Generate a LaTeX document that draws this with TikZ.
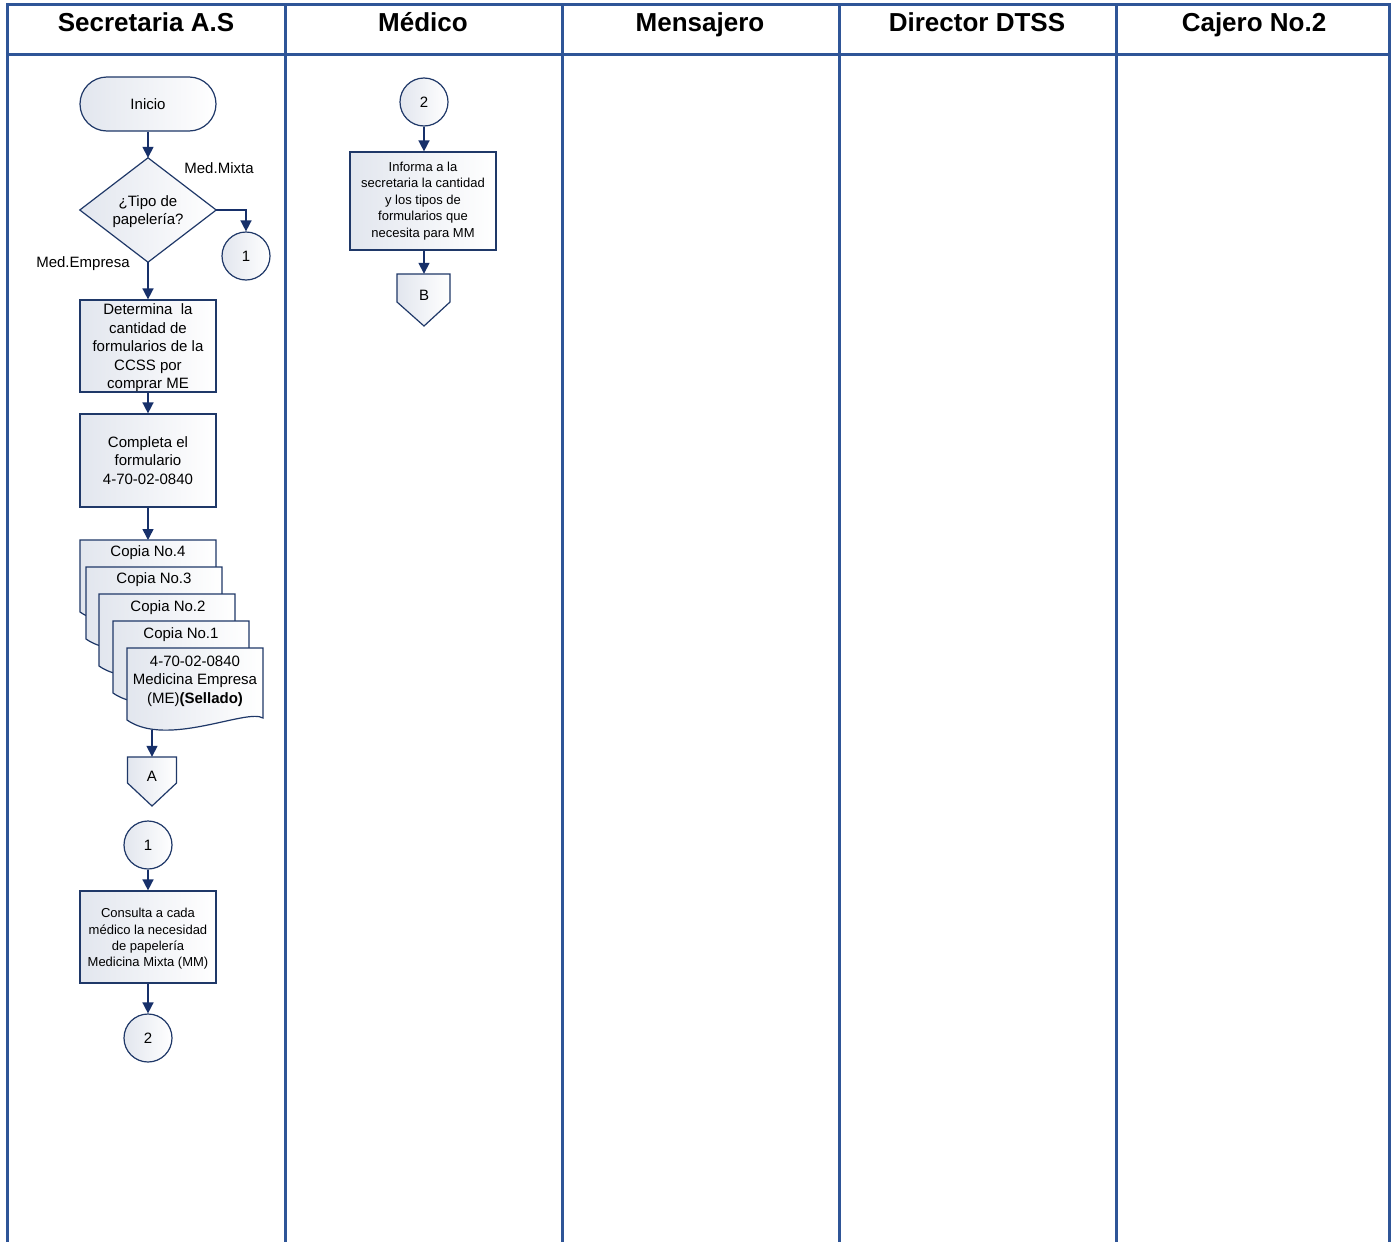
\documentclass[tikz,border=0pt]{standalone}
\usepackage{fontspec}
\setmainfont{Liberation Sans}
\usetikzlibrary{arrows.meta,shapes.geometric}
\definecolor{lanec}{HTML}{2F5597}
\definecolor{edgec}{HTML}{1F3868}
\definecolor{arrc}{HTML}{17306A}
\definecolor{fillL}{HTML}{E2E6EE}
\tikzset{
  lane/.style={draw=lanec, line width=3pt},
  shapefill/.style={left color=fillL, right color=white},
  shapeline/.style={draw=edgec, line width=1.2pt},
  proc/.style={shapeline, shapefill, rectangle, minimum width=136pt, inner sep=1pt, align=center, font=\fontsize{15}{18.5}\selectfont},
  smallproc/.style={proc, font=\fontsize{13}{16.4}\selectfont},
  term/.style={proc, rounded corners=27pt, minimum height=54pt},
  conn/.style={shapeline, shapefill, circle, minimum size=48pt, inner sep=0pt, font=\fontsize{15}{18}\selectfont},
  flow/.style={draw=arrc, line width=1.5pt, -{Triangle[width=11pt,length=11pt]}},
  lbl/.style={font=\fontsize{15}{18}\selectfont, inner sep=0pt},
  inlbl/.style={inner sep=0pt, align=center, yshift=-2pt},
  head/.style={font=\fontsize{26}{30}\selectfont\bfseries, inner sep=0pt, anchor=base},
  pics/docpage/.style={code={
    \path[shapeline, shapefill] (0,0) -- (136,0) -- (136,70)
      .. controls (120,60) and (40,100) .. (0,72) -- cycle;
  }}
}
\begin{document}
\begin{tikzpicture}[x=1pt, y=-1pt]
\useasboundingbox (0,0) rectangle (1396,1242);
\fill[white] (0,0) rectangle (1396,1242);

% swimlane frame
\draw[lane] (6,4.5) -- (1389,4.5);
\draw[lane] (6,54) -- (1389,54);
\foreach \xx in {7.5,285,562,839,1116,1389}
  \draw[lane] (\xx,3) -- (\xx,1242);

% lane headers
\node[head] (h1) at (146,31.5) {Secretaria A.S};
\node[head] (h2) at (423,31.5) {Médico};
\node[head] (h3) at (700,31.5) {Mensajero};
\node[head] (h4) at (977,31.5) {Director DTSS};
\node[head] (h5) at (1254,31.5) {Cajero No.2};

% --- Secretaria A.S ---
\node[term] (start) at (148,104) {Inicio};

\node[minimum width=136pt, minimum height=104pt, inner sep=0pt] (dec) at (148,210) {};
\path[shapeline, shapefill] (dec.north) -- (dec.east) -- (dec.south) -- (dec.west) -- cycle;
\node[align=center, font=\fontsize{15}{18}\selectfont] (dectext) at (148,212) {¿Tipo de\\papelería?};
\node[lbl] (lmixta) at (219,168) {Med.Mixta};
\node[lbl] (lempresa) at (83,264) {Med.Empresa};

\node[conn] (c1a) at (246,256) {1};

\node[proc, minimum height=92pt,
  label={[inlbl, font=\fontsize{15}{18.5}\selectfont]center:Determina\ \ la\\cantidad de\\formularios de la\\CCSS por\\comprar ME}]
  (det) at (148,346) {};
\node[proc, minimum height=93pt] (comp) at (148,460.5) {Completa el\\formulario\\4-70-02-0840};

% stack of form copies
\pic at (80,540) {docpage};
\pic at (86,567) {docpage};
\pic at (99,594) {docpage};
\pic at (113,621) {docpage};
\pic at (127,648) {docpage};
\coordinate (stacktop) at (148,540);
\coordinate (stackbot) at (152,730);
\node[lbl] (cp4) at (148,552.5) {Copia No.4};
\node[lbl] (cp3) at (154,579.5) {Copia No.3};
\node[lbl] (cp2) at (168,607.5) {Copia No.2};
\node[lbl] (cp1) at (181,634.5) {Copia No.1};
\node[align=center, inner sep=0pt, font=\fontsize{15}{18.5}\selectfont] (orig) at (195,681)
  {4-70-02-0840\\Medicina Empresa\\(ME)\textbf{(Sellado)}};

% off-page connector A
\node[minimum width=49pt, minimum height=36pt, inner sep=0pt] (offA) at (152,775) {};
\path[shapeline, shapefill] (127.5,757) -- (176.5,757) -- (176.5,783) -- (152,806) -- (127.5,783) -- cycle;
\node[lbl] (offAtext) at (152,776) {A};

\node[conn] (c1b) at (148,845) {1};
\node[smallproc, minimum height=92pt,
  label={[inlbl, font=\fontsize{13}{16.4}\selectfont]center:Consulta a cada\\médico la necesidad\\de papelería\\Medicina Mixta (MM)}]
  (cons) at (148,937) {};
\node[conn] (c2a) at (148,1038) {2};

% --- Médico ---
\node[conn] (c2b) at (424,102) {2};
\node[smallproc, minimum width=146pt, minimum height=98pt] (inf) at (423,201)
  {Informa a la\\secretaria la cantidad\\y los tipos de\\formularios que\\necesita para MM};
\node[minimum width=53pt, minimum height=40pt, inner sep=0pt] (offB) at (424,294) {};
\path[shapeline, shapefill] (397,274) -- (450,274) -- (450,302) -- (424,326) -- (397,302) -- cycle;
\node[lbl] (offBtext) at (424,295) {B};

% connectors
\draw[flow] (start.south) -- (dec.north);
\draw[flow] (dec.east) -| (c1a.north);
\draw[flow] (dec.south) -- (det.north);
\draw[flow] (det.south) -- (comp.north);
\draw[flow] (comp.south) -- (stacktop);
\draw[flow] (stackbot) -- (offA.north);
\draw[flow] (c1b.south) -- (cons.north);
\draw[flow] (cons.south) -- (c2a.north);
\draw[flow] (c2b.south) -- (c2b.south |- inf.north);
\draw[flow] (inf.south -| offB.north) -- (offB.north);
\end{tikzpicture}
\end{document}
